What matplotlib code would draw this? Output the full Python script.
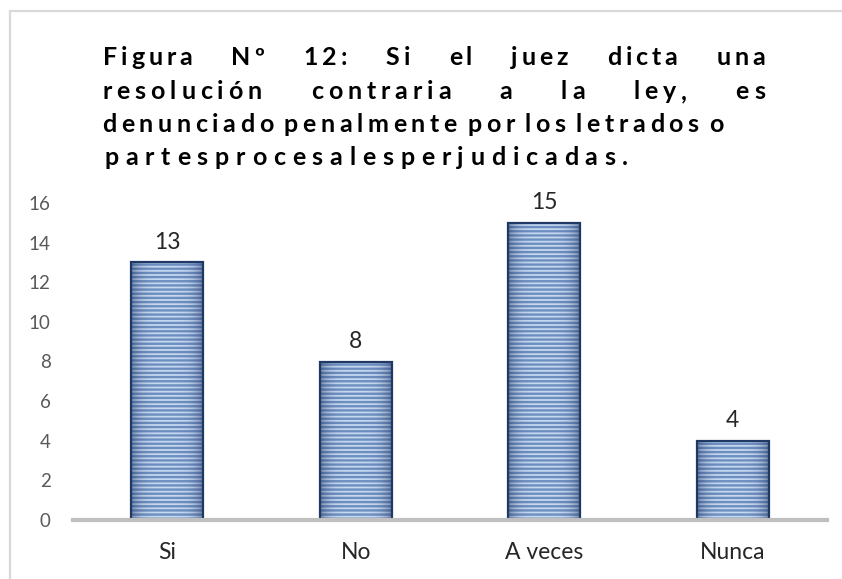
import matplotlib
matplotlib.use('Agg')
import matplotlib.pyplot as plt
import numpy as np
from matplotlib.patches import Rectangle
from matplotlib.font_manager import FontProperties, findfont
from matplotlib.ft2font import FT2Font

# ---------------- data ----------------
categories = ['Si', 'No', 'A veces', 'Nunca']
values = [13, 8, 15, 4]
yticks = [0, 2, 4, 6, 8, 10, 12, 14, 16]
title_lines = [
    ['Figura', 'Nº', '12:', 'Si', 'el', 'juez', 'dicta', 'una'],
    ['resolución', 'contraria', 'a', 'la', 'ley,', 'es'],
    ['denunciado', 'penalmente', 'por', 'los', 'letrados', 'o'],
    ['partesprocesalesperjudicadas.'],
]

W, H, DPI = 842, 579, 100
fig = plt.figure(figsize=(W / DPI, H / DPI), dpi=DPI)
fig.patch.set_facecolor('white')

FAM = 'Lato'

# outer frame (only left/top visible in the crop)
fig.patches.append(Rectangle((10 / W, -0.2), 1.5, 1.2 - 11 / H,
                             transform=fig.transFigure, fill=False,
                             edgecolor='#D9D9D9', linewidth=1.6))

# ---------------- axes ----------------
ax = fig.add_axes([73 / W, 1 - 520 / H, (827 - 73) / W, (520 - 203) / H])
x = np.arange(len(categories))
bw = 0.38

plt.rcParams['hatch.linewidth'] = 1.7
# striped fill
ax.bar(x, values, width=bw, color='#C6D8F0', edgecolor='#6D8FC0',
       hatch='----', linewidth=0, zorder=1)
# edge shading (horizontal gradient) clipped to each bar
grad = np.linspace(-1, 1, 80)
alpha = 0.5 * np.abs(grad) ** 4
rgba = np.zeros((1, 80, 4))
rgba[..., 0] = 0.12
rgba[..., 1] = 0.20
rgba[..., 2] = 0.38
rgba[..., 3] = alpha
for xi, v in zip(x, values):
    ax.imshow(rgba, extent=(xi - bw / 2, xi + bw / 2, 0, v), aspect='auto',
              interpolation='bilinear', zorder=1.5)
# outline
ax.bar(x, values, width=bw, facecolor='none', edgecolor='#1F3864',
       linewidth=1.6, zorder=2)
ax.set_xlim(-0.5, len(categories) - 0.5)
ax.set_ylim(0, 16)

for xi, v in zip(x, values):
    ax.annotate(str(v), (xi, v), xytext=(0, 7), textcoords='offset points',
                ha='center', va='bottom', fontsize=16.5, family=FAM,
                color='#262626')

for s in ['top', 'right', 'left']:
    ax.spines[s].set_visible(False)
ax.spines['bottom'].set_color('#BFBFBF')
ax.spines['bottom'].set_linewidth(3)
ax.spines['bottom'].set_zorder(3)

ax.set_xticks(x)
ax.set_xticklabels(categories, fontsize=16.5, family=FAM, color='#262626')
ax.set_yticks(yticks)
ax.set_yticklabels([str(t) for t in yticks], fontsize=13.5, family=FAM,
                   color='#595959')
ax.tick_params(axis='x', length=0, pad=16)
ax.tick_params(axis='y', length=0, pad=16)
ax.set_facecolor('none')

# ---------------- justified, letter-spaced title ----------------
TSIZE = 18
fp = FontProperties(family=FAM, weight='bold', size=TSIZE)
font = FT2Font(findfont(fp))
font.set_size(TSIZE, DPI)


def adv(c):
    g = font.load_char(ord(c))
    return g.linearHoriAdvance / 65536.0


space_adv = adv(' ')

# (left, right, baseline) in pixels; first-word target width for tracking
line_specs = [
    dict(left=103, right=765, base=65, first_w=89, justify=True),
    dict(left=102, right=765, base=99, first_w=160, justify=True),
    dict(left=102, right=723, base=132, justify=False, gap_sp=0.9),
    dict(left=104, right=628, base=165, justify=False, gap_sp=0.5),
]

for words, spec in zip(title_lines, line_specs):
    left, right = spec['left'], spec['right']
    if spec['justify']:
        w0 = words[0]
        t = (spec['first_w'] - sum(adv(c) for c in w0)) / (len(w0) - 1)
        wws = [sum(adv(c) for c in w) + t * (len(w) - 1) for w in words]
        gap = (right - left - sum(wws)) / (len(words) - 1)
    else:
        nchar = sum(len(w) for w in words)
        sumadv = sum(adv(c) for w in words for c in w)
        extra = (len(words) - 1) * spec['gap_sp'] * space_adv
        t = (right - left - sumadv - extra) / (nchar - 1)
        gap = spec['gap_sp'] * space_adv + t
    cur = left
    for wi, w in enumerate(words):
        for ci, c in enumerate(w):
            fig.text(cur / W, 1 - spec['base'] / H, c, fontproperties=fp,
                     ha='left', va='baseline', color='#000000')
            cur += adv(c)
            if ci < len(w) - 1:
                cur += t
        cur += gap

fig.savefig('out.png', dpi=DPI, facecolor='white')
